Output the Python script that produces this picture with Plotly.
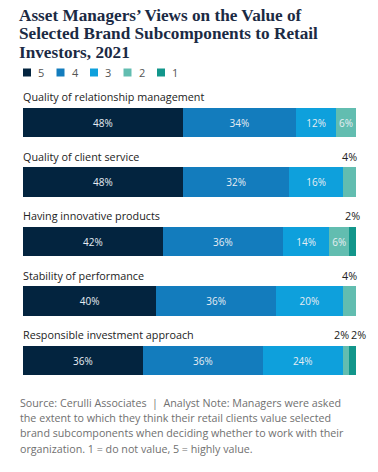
import plotly.graph_objects as go

categories = [
    "Quality of relationship management",
    "Quality of client service",
    "Having innovative products",
    "Stability of performance",
    "Responsible investment approach",
]
series_names = ["5", "4", "3", "2", "1"]
values = {
    "5": [48, 48, 42, 40, 36],
    "4": [34, 32, 36, 36, 36],
    "3": [12, 16, 14, 20, 24],
    "2": [6, 4, 6, 4, 2],
    "1": [0, 0, 2, 0, 2],
}
colors = {
    "5": "#03243f",
    "4": "#137cbd",
    "3": "#0ea0dc",
    "2": "#62bdb0",
    "1": "#12968b",
}

title_lines = [
    "Asset Managers\u2019 Views on the Value of",
    "Selected Brand Subcomponents to Retail",
    "Investors, 2021",
]
note_lines = [
    "Source: Cerulli Associates  |  Analyst Note: Managers were asked",
    "the extent to which they think their retail clients value selected",
    "brand subcomponents when deciding whether to work with their",
    "organization. 1 = do not value, 5 = highly value.",
]

INSIDE_MIN = 5
W, H = 378, 472
ML, MR, MT, MB = 23, 22, 93, 76
PW, PH = W - ML - MR, H - MT - MB


def px_to_paper_x(px):
    return (px - ML) / PW


def px_to_paper_y(py):
    return (H - MB - py) / PH


fig = go.Figure()
for s in series_names:
    vals = values[s]
    texts = [f"{v}%" if v >= INSIDE_MIN else "" for v in vals]
    fig.add_trace(go.Bar(
        orientation="h", y=categories, x=vals, name=s,
        marker=dict(color=colors[s], line=dict(width=0)),
        text=texts, textposition="inside", insidetextanchor="middle", textangle=0,
        textfont=dict(family="Open Sans", size=11, color="#e6edf3"),
        hoverinfo="skip", showlegend=False,
    ))

annotations = []
for c in categories:
    annotations.append(dict(
        x=0, y=c, xref="x", yref="y", text=c, showarrow=False,
        xanchor="left", yanchor="middle", xshift=-2, yshift=26,
        font=dict(family="Open Sans", size=10.8, color="#222222"),
    ))
for i, c in enumerate(categories):
    cum = 0
    small = []
    for s in series_names:
        v = values[s][i]
        if 0 < v < INSIDE_MIN:
            small.append((cum + v / 2, v))
        cum += v
    for j, (xc, v) in enumerate(small):
        shift = 0
        if len(small) > 1:
            shift = -5 if j == 0 else 6
        annotations.append(dict(
            x=xc, y=c, xref="x", yref="y", text=f"{v}%", showarrow=False,
            xanchor="center", yanchor="middle", xshift=shift, yshift=26,
            font=dict(family="Open Sans", size=10.8, color="#222222"),
        ))

shapes = []
leg_y = 72.5
for k, s in enumerate(series_names):
    x0 = 23 + k * 33.5
    shapes.append(dict(type="rect", xref="paper", yref="paper",
                       x0=px_to_paper_x(x0), x1=px_to_paper_x(x0 + 8),
                       y0=px_to_paper_y(leg_y + 4), y1=px_to_paper_y(leg_y - 4),
                       fillcolor=colors[s], line=dict(width=0)))
    annotations.append(dict(
        x=px_to_paper_x(x0 + 13), y=px_to_paper_y(leg_y), xref="paper", yref="paper",
        text=s, showarrow=False, xanchor="left", yanchor="middle",
        font=dict(family="Open Sans", size=11, color="#555555"),
    ))

for k, line in enumerate(title_lines):
    annotations.append(dict(
        x=px_to_paper_x(17), y=px_to_paper_y(15 + k * 19), xref="paper", yref="paper",
        text=f"<b>{line}</b>", showarrow=False, xanchor="left", yanchor="middle",
        font=dict(family="Liberation Serif", size=17.2, color="#1b2a44"),
    ))

for k, line in enumerate(note_lines):
    annotations.append(dict(
        x=px_to_paper_x(18), y=px_to_paper_y(403 + k * 15.2), xref="paper", yref="paper",
        text=line, showarrow=False, xanchor="left", yanchor="middle",
        font=dict(family="Open Sans", size=10.7, color="#707070"),
    ))

fig.update_layout(
    width=W, height=H,
    margin=dict(l=ML, r=MR, t=MT, b=MB),
    barmode="stack", bargap=0.505,
    paper_bgcolor="white", plot_bgcolor="white",
    xaxis=dict(range=[0, 100], visible=False, fixedrange=True),
    yaxis=dict(categoryorder="array", categoryarray=categories, autorange="reversed",
               visible=False, fixedrange=True),
    annotations=annotations, shapes=shapes,
    uniformtext=dict(mode="show", minsize=8),
)

fig.write_html("out.html", config={"displayModeBar": False},
               post_script="document.body.style.margin='0';document.body.style.overflow='hidden';")
